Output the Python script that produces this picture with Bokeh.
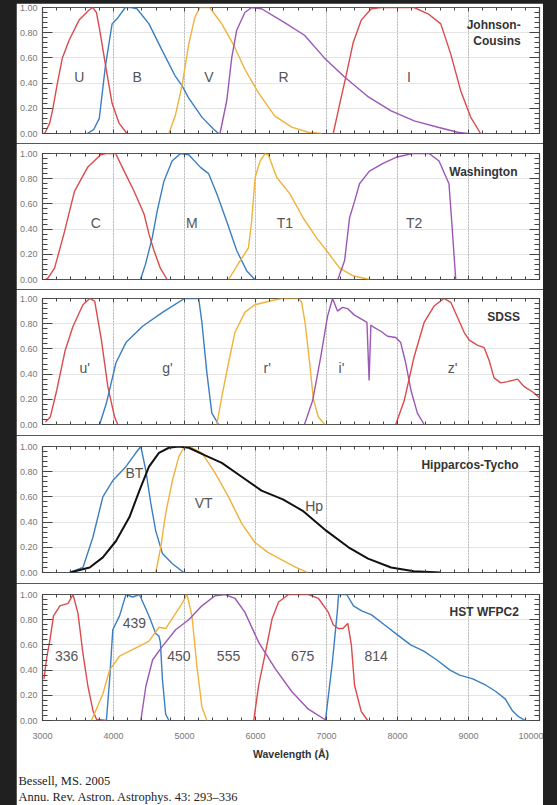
from bokeh.plotting import figure
from bokeh.layouts import column
from bokeh.models import (FixedTicker, LinearAxis, Title, GlobalInlineStyleSheet, Range1d, Grid)
from bokeh.core.properties import value
from bokeh.embed import file_html
from bokeh.resources import INLINE

RED = "#dc4a4c"; BLUE = "#3b7ec1"; YEL = "#f0b23a"; PUR = "#9c57b6"; BLK = "#111111"

# ---------------- Johnson-Cousins ----------------
U_wl = [3030, 3100, 3140, 3210, 3280, 3375, 3515, 3655, 3710, 3760, 3800, 3885, 3980, 4080, 4190]
U_tr = [0.0, 0.08, 0.18, 0.40, 0.60, 0.74, 0.90, 0.98, 1.0, 0.96, 0.84, 0.55, 0.24, 0.08, 0.0]
B_wl = [3630, 3720, 3800, 3885, 3980, 4050, 4165, 4250, 4330, 4500, 4685, 4865, 4965, 5060, 5245, 5400, 5480]
B_tr = [0.0, 0.03, 0.12, 0.53, 0.87, 0.91, 1.0, 1.0, 0.99, 0.87, 0.66, 0.46, 0.38, 0.28, 0.13, 0.04, 0.0]
V_wl = [4780, 4870, 4965, 5060, 5145, 5215, 5355, 5525, 5695, 5850, 6045, 6270, 6510, 6745, 6930]
V_tr = [0.0, 0.14, 0.38, 0.71, 0.92, 1.0, 1.0, 0.87, 0.70, 0.51, 0.32, 0.14, 0.05, 0.01, 0.0]
R_wl = [5500, 5595, 5665, 5735, 5850, 5945, 6085, 6410, 6690, 6970, 7250, 7590, 7910, 8235, 8570, 8850, 8990]
R_tr = [0.0, 0.26, 0.60, 0.82, 0.96, 1.0, 0.99, 0.88, 0.78, 0.60, 0.45, 0.29, 0.18, 0.10, 0.05, 0.01, 0.0]
I_wl = [7095, 7180, 7280, 7375, 7490, 7630, 7770, 8235, 8430, 8610, 8750, 8890, 9030, 9170]
I_tr = [0.0, 0.22, 0.47, 0.72, 0.90, 0.99, 1.0, 1.0, 0.95, 0.87, 0.63, 0.34, 0.13, 0.0]
JC_labels = ["U", "B", "V", "R", "I"]
JC_label_x = [3520, 4335, 5345, 6395, 8160]
JC_label_y = [0.45, 0.45, 0.45, 0.45, 0.45]

# ---------------- Washington ----------------
C_wl = [3040, 3075, 3170, 3310, 3450, 3635, 3820, 3890, 4030, 4150, 4290, 4430, 4500, 4570, 4660, 4755]
C_tr = [0.0, 0.01, 0.09, 0.38, 0.70, 0.89, 0.99, 1.0, 1.0, 0.86, 0.70, 0.52, 0.36, 0.23, 0.09, 0.0]
M_wl = [4380, 4450, 4545, 4615, 4710, 4825, 4945, 5060, 5225, 5340, 5455, 5595, 5735, 5875, 5990]
M_tr = [0.0, 0.12, 0.33, 0.54, 0.78, 0.94, 1.0, 0.99, 0.89, 0.84, 0.68, 0.46, 0.23, 0.07, 0.0]
T1_wl = [5620, 5785, 5900, 5945, 5995, 6065, 6135, 6180, 6300, 6485, 6670, 6860, 7000, 7185, 7370, 7605]
T1_tr = [0.0, 0.15, 0.25, 0.46, 0.81, 0.94, 1.0, 0.99, 0.81, 0.68, 0.49, 0.33, 0.23, 0.09, 0.03, 0.0]
T2_wl = [7160, 7255, 7325, 7395, 7465, 7605, 7790, 7980, 8210, 8445, 8585, 8725, 8770, 8820]
T2_tr = [0.0, 0.15, 0.49, 0.62, 0.76, 0.86, 0.92, 0.97, 1.0, 1.0, 0.94, 0.76, 0.41, 0.0]
WA_labels = ["C", "M", "T1", "T2"]
WA_label_x = [3750, 5105, 6415, 8235]
WA_label_y = [0.45, 0.45, 0.45, 0.45]

# ---------------- SDSS ----------------
us_wl = [3040, 3110, 3200, 3320, 3430, 3570, 3665, 3735, 3830, 3920, 4015, 4060]
us_tr = [0.02, 0.06, 0.27, 0.59, 0.78, 0.95, 1.0, 0.98, 0.67, 0.30, 0.06, 0.0]
gs_wl = [3805, 3900, 4035, 4175, 4410, 4690, 5000, 5200, 5245, 5315, 5385, 5480]
gs_tr = [0.0, 0.17, 0.49, 0.65, 0.78, 0.89, 1.0, 1.0, 0.81, 0.41, 0.09, 0.0]
rs_wl = [5455, 5525, 5620, 5710, 5850, 5990, 6280, 6370, 6605, 6650, 6700, 6770, 6815, 6885, 6975]
rs_tr = [0.0, 0.22, 0.49, 0.73, 0.89, 0.95, 0.99, 1.0, 1.0, 0.97, 0.80, 0.45, 0.20, 0.06, 0.0]
is_wl = [6690, 6805, 6920, 7015, 7085, 7155, 7225, 7295, 7390, 7510, 7570, 7600, 7625, 7670, 7765, 7860, 7975, 8045, 8115, 8190, 8280, 8375]
is_tr = [0.0, 0.19, 0.54, 0.86, 1.0, 0.90, 0.93, 0.92, 0.87, 0.83, 0.81, 0.35, 0.79, 0.77, 0.74, 0.70, 0.69, 0.65, 0.49, 0.27, 0.09, 0.0]
zs_wl = [7975, 8095, 8235, 8375, 8515, 8655, 8750, 8940, 9010, 9125, 9220, 9290, 9360, 9455, 9550, 9690, 9785, 9925, 10000]
zs_tr = [0.0, 0.19, 0.54, 0.81, 0.94, 1.0, 0.97, 0.73, 0.67, 0.63, 0.61, 0.51, 0.37, 0.33, 0.34, 0.36, 0.30, 0.25, 0.21]
SD_labels = ["u'", "g'", "r'", "i'", "z'"]
SD_label_x = [3595, 4760, 6165, 7210, 8775]
SD_label_y = [0.45, 0.45, 0.45, 0.45, 0.45]

# ---------------- Hipparcos-Tycho ----------------
BT_wl = [3385, 3570, 3710, 3850, 3990, 4175, 4315, 4385, 4455, 4525, 4595, 4690, 4830, 4990]
BT_tr = [0.0, 0.04, 0.28, 0.60, 0.73, 0.84, 0.95, 1.0, 0.81, 0.55, 0.33, 0.15, 0.07, 0.0]
VT_wl = [4595, 4665, 4735, 4830, 4920, 5000, 5105, 5245, 5430, 5620, 5805, 5990, 6175, 6370, 6570, 6730]
VT_tr = [0.0, 0.20, 0.47, 0.73, 0.92, 1.0, 0.99, 0.95, 0.79, 0.60, 0.39, 0.24, 0.16, 0.10, 0.04, 0.0]
Hp_wl = [3385, 3665, 3850, 4035, 4225, 4365, 4500, 4640, 4780, 4920, 5060, 5290, 5525, 5805, 6085, 6385, 6665, 7000, 7310, 7585, 7910, 8230, 8600]
Hp_tr = [0.0, 0.04, 0.12, 0.25, 0.44, 0.65, 0.84, 0.95, 0.99, 1.0, 0.99, 0.93, 0.87, 0.76, 0.65, 0.58, 0.49, 0.33, 0.20, 0.11, 0.04, 0.01, 0.0]
HT_labels = ["BT", "VT", "Hp"]
HT_label_x = [4295, 5270, 6825]
HT_label_y = [0.79, 0.55, 0.53]

# ---------------- HST WFPC2 ----------------
F336_wl = [3020, 3060, 3105, 3155, 3245, 3360, 3430, 3500, 3570, 3640, 3710, 3760, 3900]
F336_tr = [0.33, 0.50, 0.64, 0.83, 0.91, 0.93, 1.0, 0.85, 0.53, 0.27, 0.08, 0.01, 0.0]
F439_wl = [3900, 3945, 3990, 4085, 4175, 4270, 4365, 4500, 4595, 4640, 4660, 4690, 4735, 4780]
F439_tr = [0.0, 0.32, 0.72, 0.83, 1.0, 0.98, 1.0, 0.83, 0.69, 0.67, 0.62, 0.32, 0.05, 0.0]
F450_wl = [3690, 3850, 3945, 4085, 4225, 4365, 4500, 4640, 4735, 4875, 4965, 5035, 5105, 5175, 5245, 5315]
F450_tr = [0.0, 0.21, 0.40, 0.51, 0.55, 0.59, 0.63, 0.74, 0.73, 0.85, 0.93, 1.0, 0.83, 0.43, 0.11, 0.0]
F555_wl = [4385, 4455, 4550, 4690, 4875, 5060, 5245, 5430, 5570, 5710, 5850, 6045, 6280, 6510, 6745, 7000]
F555_tr = [0.0, 0.27, 0.48, 0.59, 0.72, 0.80, 0.91, 0.99, 1.0, 0.97, 0.86, 0.62, 0.41, 0.23, 0.09, 0.0]
F675_wl = [5975, 6045, 6140, 6235, 6325, 6465, 6745, 6885, 7025, 7095, 7165, 7230, 7300, 7350, 7395, 7490, 7580]
F675_tr = [0.0, 0.28, 0.54, 0.81, 0.94, 1.0, 1.0, 0.97, 0.86, 0.76, 0.73, 0.73, 0.77, 0.60, 0.28, 0.07, 0.0]
F814_wl = [6985, 7080, 7150, 7170, 7285, 7380, 7495, 7630, 7815, 8000, 8185, 8370, 8555, 8740, 8875, 9060, 9245, 9385, 9520, 9615, 9705, 9800]
F814_tr = [0.0, 0.45, 0.85, 1.0, 1.0, 0.91, 0.87, 0.84, 0.76, 0.68, 0.60, 0.55, 0.48, 0.40, 0.36, 0.33, 0.28, 0.23, 0.17, 0.08, 0.03, 0.0]
HST_labels = ["336", "439", "450", "555", "675", "814"]
HST_label_x = [3340, 4295, 4920, 5620, 6665, 7700]
HST_label_y = [0.51, 0.77, 0.51, 0.51, 0.51, 0.51]

PANEL_NAMES = ["Johnson-\nCousins", "Washington", "SDSS", "Hipparcos-Tycho", "HST WFPC2"]
NAME_X = [9735, 9690, 9725, 9705, 9710]
NAME_Y = [0.92, 0.91, 0.91, 0.91, 0.92]

X_TICKS = [3000, 4000, 5000, 6000, 7000, 8000, 9000, 10000]
X_TICK_LABELS = ["3000", "4000", "5000", "6000", "7000", "8000", "9000", "10000"]
X_MINOR = list(range(3000, 10001, 200))
GRID_X = [4000, 5000, 6000, 7000, 8000, 9000]
Y_TICKS = [0.0, 0.2, 0.4, 0.6, 0.8, 1.0]
Y_TICK_LABELS = ["0.00", "0.20", "0.40", "0.60", "0.80", "1.00"]
Y_MINOR = [round(i * 0.04, 2) for i in range(26)]

X_LABEL = "Wavelength (Å)"
CITATION = "Bessell, MS. 2005\nAnnu. Rev. Astron. Astrophys. 43: 293–336"

FONT = "Liberation Sans"

PANELS = [
    ([(U_wl, U_tr, RED), (B_wl, B_tr, BLUE), (V_wl, V_tr, YEL), (R_wl, R_tr, PUR), (I_wl, I_tr, RED)],
     (JC_labels, JC_label_x, JC_label_y)),
    ([(C_wl, C_tr, RED), (M_wl, M_tr, BLUE), (T1_wl, T1_tr, YEL), (T2_wl, T2_tr, PUR)],
     (WA_labels, WA_label_x, WA_label_y)),
    ([(us_wl, us_tr, RED), (gs_wl, gs_tr, BLUE), (rs_wl, rs_tr, YEL), (is_wl, is_tr, PUR), (zs_wl, zs_tr, RED)],
     (SD_labels, SD_label_x, SD_label_y)),
    ([(BT_wl, BT_tr, BLUE), (VT_wl, VT_tr, YEL), (Hp_wl, Hp_tr, BLK)],
     (HT_labels, HT_label_x, HT_label_y)),
    ([(F336_wl, F336_tr, RED), (F439_wl, F439_tr, BLUE), (F450_wl, F450_tr, YEL), (F555_wl, F555_tr, PUR),
      (F675_wl, F675_tr, RED), (F814_wl, F814_tr, BLUE)],
     (HST_labels, HST_label_x, HST_label_y)),
]

HEIGHTS = [140, 146, 146, 148, 232]
TOPS = [4, 10, 9, 11, 11]
BOTTOMS = [10, 10, 11, 11, 95]


def hide_labels(ax):
    ax.major_label_text_color = None
    ax.major_label_text_font_size = "1px"
    ax.major_label_standoff = 0


def style_x(ax, show):
    ax.ticker = FixedTicker(ticks=X_TICKS, minor_ticks=X_MINOR)
    ax.axis_line_color = None
    ax.major_tick_in = 4
    ax.major_tick_out = 0
    ax.minor_tick_in = 3
    ax.minor_tick_out = 0
    ax.major_tick_line_color = "#444444"
    ax.minor_tick_line_color = "#444444"
    if show:
        ax.major_label_overrides = dict(zip(X_TICKS, X_TICK_LABELS))
        ax.major_label_text_font = FONT
        ax.major_label_text_font_size = "9px"
        ax.major_label_text_color = "#777777"
        ax.major_label_standoff = 12
    else:
        hide_labels(ax)


def style_y(ax, show):
    ax.ticker = FixedTicker(ticks=Y_TICKS, minor_ticks=Y_MINOR)
    ax.axis_line_color = None
    ax.major_tick_in = 10
    ax.major_tick_out = 0
    ax.minor_tick_in = 5
    ax.minor_tick_out = 0
    ax.major_tick_line_color = "#444444"
    ax.minor_tick_line_color = "#444444"
    if show:
        ax.major_label_overrides = dict(zip(Y_TICKS, Y_TICK_LABELS))
        ax.major_label_text_font = FONT
        ax.major_label_text_font_size = "9px"
        ax.major_label_text_color = "#777777"
        ax.major_label_standoff = 5
    else:
        hide_labels(ax)


final = []
for i, (bands, (labs, lx, ly)) in enumerate(PANELS):
    last = i == len(PANELS) - 1
    p = figure(width=527, height=HEIGHTS[i], x_range=Range1d(3000, 10000), y_range=Range1d(0, 1),
               output_backend="svg", toolbar_location=None, x_axis_location=None, y_axis_location=None,
               min_border_left=24, min_border_right=4, min_border_top=TOPS[i], min_border_bottom=BOTTOMS[i],
               background_fill_color="white", border_fill_color="white",
               outline_line_color="#555555", outline_line_width=1.2)
    bottom_ax = LinearAxis()
    style_x(bottom_ax, last)
    p.add_layout(bottom_ax, "below")
    left_ax = LinearAxis()
    style_y(left_ax, True)
    p.add_layout(left_ax, "left")
    top_ax = LinearAxis()
    style_x(top_ax, False)
    p.add_layout(top_ax, "above")
    right_ax = LinearAxis()
    style_y(right_ax, False)
    p.add_layout(right_ax, "right")

    # dotted vertical grid lines at the interior major ticks
    g = Grid(dimension=0, ticker=FixedTicker(ticks=GRID_X), grid_line_color="#9a9a9a",
             grid_line_dash="1 2", grid_line_width=1)
    p.add_layout(g)

    for wl, tr, col in bands:
        p.line(wl, tr, line_color=col, line_width=2.0 if col == BLK else 1.4)

    p.text(x=lx, y=ly, text=labs, text_font=value(FONT), text_font_size=value("14px"),
           text_color="#555555", text_align="center", text_baseline="middle")
    p.text(x=[NAME_X[i]], y=[NAME_Y[i]], text=[PANEL_NAMES[i]], text_font=value(FONT),
           text_font_size=value("12px"), text_font_style="bold", text_color="#333333",
           text_align="right", text_baseline="top", text_line_height=1.15)

    if last:
        bottom_ax.axis_label = X_LABEL
        bottom_ax.axis_label_text_font = FONT
        bottom_ax.axis_label_text_font_size = "10.5px"
        bottom_ax.axis_label_text_font_style = "bold"
        bottom_ax.axis_label_text_color = "#333333"
        bottom_ax.axis_label_standoff = 6
        t = Title(text=CITATION, align="left", text_font="Liberation Serif", text_font_size="12.5px",
                  text_font_style="normal", text_color="#222222", offset=-24, standoff=19,
                  text_line_height=1.15)
        p.add_layout(t, "below")
    final.append(p)

layout = column(*final, margin=(3, 0, 0, 16),
                stylesheets=[GlobalInlineStyleSheet(
                    css="html, body {margin:0; padding:0; background-color:#202020; overflow:hidden;}")])

open("out.html", "w").write(file_html(layout, INLINE))
